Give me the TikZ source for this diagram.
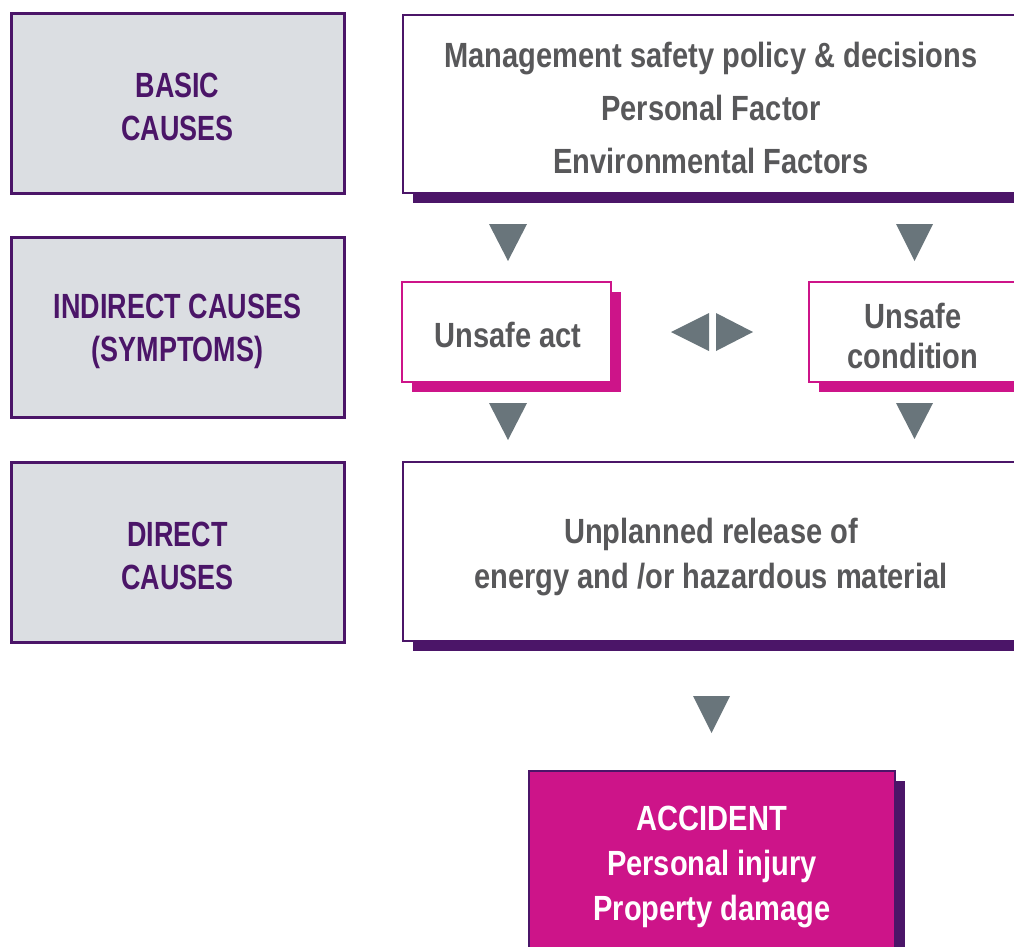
\documentclass[tikz,border=0pt]{standalone}
\usepackage{fontspec}
\setmainfont{Liberation Sans}[FakeStretch=0.83]
\newfontfamily\capsfont{Liberation Sans}[FakeStretch=0.77]
\usetikzlibrary{shadows}
\definecolor{purp}{HTML}{4B1568}
\definecolor{mag}{HTML}{CD1489}
\definecolor{lightg}{HTML}{DBDEE2}
\definecolor{textg}{HTML}{58585A}
\definecolor{arrowg}{HTML}{69757B}
\begin{document}
\begin{tikzpicture}[x=1pt,y=-1pt,
  leftbox/.style={draw=purp, line width=3pt, fill=lightg, minimum width=333pt,
    minimum height=180pt, inner sep=0pt},
  lefttext/.style={inner sep=0pt, text=purp, align=center,
    font=\capsfont\bfseries\fontsize{35}{43}\selectfont},
  graytext/.style={inner sep=0pt, text=textg, align=center},
  whitebox/.style={draw=purp, line width=2pt, fill=white, inner sep=0pt,
    general shadow={fill=purp, shadow xshift=10pt, shadow yshift=-10pt}},
  magbox/.style={draw=mag, line width=2pt, fill=white, inner sep=0pt,
    minimum width=209pt, minimum height=100pt,
    general shadow={fill=mag, shadow xshift=10pt, shadow yshift=-10pt}},
  accbox/.style={draw=purp, line width=2pt, fill=mag, inner sep=0pt,
    minimum width=366pt, minimum height=182pt,
    general shadow={fill=purp, shadow xshift=10pt, shadow yshift=-10pt}},
  tri/.style={fill=arrowg}
]
\useasboundingbox (0,0) rectangle (1014,946);
\clip (0,0) rectangle (1014,946);

% left column
\node[leftbox] (basic) at (177.5,103) {};
\node[lefttext] (basicT) at ([yshift=-3.5pt]basic.center) {BASIC\\CAUSES};
\node[leftbox] (indirect) at (177.5,327.5) {};
\node[lefttext] (indirectT) at ([yshift=-3.5pt]indirect.center) {INDIRECT CAUSES\\(SYMPTOMS)};
\node[leftbox] (direct) at (177.5,552) {};
\node[lefttext] (directT) at ([yshift=-3.5pt]direct.center) {DIRECT\\CAUSES};

% right column
\node[whitebox, minimum width=616pt, minimum height=178pt] (top) at (711,104) {};
\node[graytext, font=\bfseries\fontsize{35}{53}\selectfont] (topT) at ([yshift=-3.5pt]top.center)
  {Management safety policy \& decisions\\Personal Factor\\Environmental Factors};
\node[magbox] (act) at (506.5,332) {};
\node[graytext, font=\bfseries\fontsize{35}{40}\selectfont] (actT) at ([xshift=1.5pt,yshift=-3pt]act.center) {Unsafe act};
\node[magbox] (cond) at (913,332) {};
\node[graytext, font=\bfseries\fontsize{35}{40}\selectfont] (condT) at ([yshift=-3.5pt]cond.center) {Unsafe\\condition};
\node[whitebox, minimum width=616pt, minimum height=179pt] (release) at (711,551.5) {};
\node[graytext, font=\bfseries\fontsize{35}{45}\selectfont] (releaseT) at ([yshift=-6pt]release.center)
  {Unplanned release of\\energy and /or hazardous material};
\node[accbox] (acc) at (712,862) {};
\node[inner sep=0pt, text=white, align=center, font=\bfseries\fontsize{35}{45}\selectfont]
  (accT) at ([yshift=-4.5pt]acc.center) {ACCIDENT\\Personal injury\\Property damage};

% arrow triangles
\fill[tri] (489,224) -- (527,224) -- (508,261) -- cycle;
\fill[tri] (896,224) -- (933,224) -- (914.5,261) -- cycle;
\fill[tri] (489,403) -- (527,403) -- (508,440) -- cycle;
\fill[tri] (896,403) -- (933,403) -- (914.5,439) -- cycle;
\fill[tri] (693,696) -- (730,696) -- (711.5,733) -- cycle;
\fill[tri] (709,313) -- (709,351) -- (671,332) -- cycle;
\fill[tri] (716,313) -- (716,351) -- (753,332) -- cycle;
\end{tikzpicture}
\end{document}
